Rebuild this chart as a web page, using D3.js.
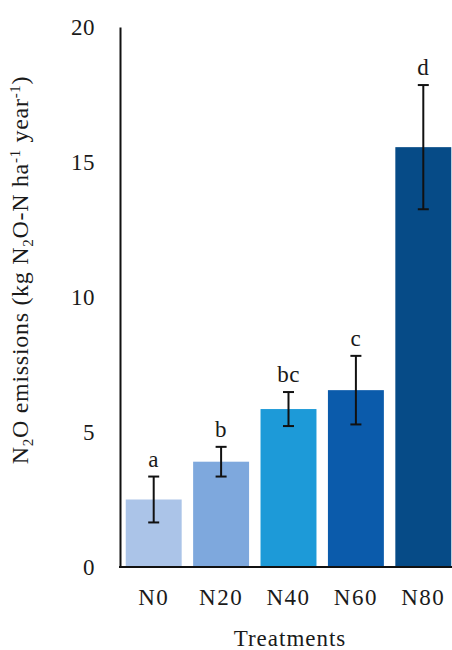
<!DOCTYPE html>
<meta charset="utf-8">
<script src="https://d3js.org/d3.v7.min.js"></script>
<style>
  body { margin: 0; background: #fff; }
  text { font-family: "Liberation Serif", serif; fill: #1a1a1a; }
</style>
<div id="chart"></div>
<script>

// data
const treatments = ["N0", "N20", "N40", "N60", "N80"];
const emissions = [2.5, 3.9, 5.85, 6.55, 15.55];
const errors = [0.85, 0.55, 0.63, 1.27, 2.3];
const letters = ["a", "b", "bc", "c", "d"];
const barColors = ["#abc4e8", "#7ea8dd", "#1d9ad8", "#0b5bab", "#064b87"];
const yTicks = [0, 5, 10, 15, 20];

const W = 452, H = 650;
const svg = d3.select("#chart").append("svg")
    .attr("width", W)
    .attr("height", H);

const x = d3.scaleBand()
    .domain(treatments)
    .range([120, 457])
    .paddingInner(0.17)
    .paddingOuter(0.085);

const y = d3.scaleLinear()
    .domain([0, 20])
    .range([567, 27]);

const data = treatments.map((t, i) => ({
  t: t, v: emissions[i], e: errors[i], l: letters[i], c: barColors[i]
}));

// bars
svg.append("g").selectAll("rect")
  .data(data)
  .join("rect")
    .attr("x", d => x(d.t))
    .attr("width", x.bandwidth())
    .attr("y", d => y(d.v))
    .attr("height", d => y(0) - y(d.v))
    .attr("fill", d => d.c);

// error bars
const eb = svg.append("g").selectAll("g")
  .data(data)
  .join("g")
    .attr("transform", d => "translate(" + (x(d.t) + x.bandwidth() / 2) + ",0)")
    .attr("stroke", "#111")
    .attr("stroke-width", 2);
eb.append("line")
    .attr("y1", d => y(d.v + d.e))
    .attr("y2", d => y(d.v - d.e));
eb.append("line")
    .attr("x1", -5.5).attr("x2", 5.5)
    .attr("y1", d => y(d.v + d.e))
    .attr("y2", d => y(d.v + d.e));
eb.append("line")
    .attr("x1", -5.5).attr("x2", 5.5)
    .attr("y1", d => y(d.v - d.e))
    .attr("y2", d => y(d.v - d.e));

// significance letters
svg.append("g").selectAll("text")
  .data(data)
  .join("text")
    .attr("x", d => x(d.t) + x.bandwidth() / 2)
    .attr("y", d => y(d.v + d.e) - 10)
    .attr("text-anchor", "middle")
    .style("font-size", "23px")
    .style("letter-spacing", "0.5px")
    .text(d => d.l);

// y axis
const yAxis = svg.append("g")
    .attr("transform", "translate(120,0)")
    .call(d3.axisLeft(y).tickValues(yTicks).tickSize(0).tickPadding(25));
yAxis.select(".domain").attr("stroke", "#111").attr("stroke-width", 2);
yAxis.selectAll("text")
    .style("font-size", "23px")
    .style("letter-spacing", "0.5px")
    .style("font-family", "Liberation Serif");

// x axis
const xAxis = svg.append("g")
    .attr("transform", "translate(0,567)")
    .call(d3.axisBottom(x).tickSize(0));
xAxis.select(".domain").remove();
xAxis.append("line")
    .attr("x1", 119).attr("x2", W)
    .attr("stroke", "#111").attr("stroke-width", 2);
xAxis.selectAll(".tick text")
    .attr("y", 38).attr("dy", 0)
    .style("font-size", "23px")
    .style("font-family", "Liberation Serif")
    .style("letter-spacing", "1.5px");

// axis titles
svg.append("text")
    .attr("x", 290).attr("y", 646)
    .attr("text-anchor", "middle")
    .style("font-size", "23px")
    .style("letter-spacing", "1px")
    .text("Treatments");

const yt = svg.append("text")
    .attr("transform", "translate(28,270) rotate(-90)")
    .attr("text-anchor", "middle")
    .style("font-size", "24px")
    .style("letter-spacing", "0.7px");
yt.append("tspan").text("N");
yt.append("tspan").attr("dy", 5).style("font-size", "15px").text("2");
yt.append("tspan").attr("dy", -5).text("O emissions (kg N");
yt.append("tspan").attr("dy", 5).style("font-size", "15px").text("2");
yt.append("tspan").attr("dy", -5).text("O-N ha");
yt.append("tspan").attr("dy", -8).style("font-size", "15px").text("-1");
yt.append("tspan").attr("dy", 8).text(" year");
yt.append("tspan").attr("dy", -8).style("font-size", "15px").text("-1");
yt.append("tspan").attr("dy", 8).text(")");

</script>
